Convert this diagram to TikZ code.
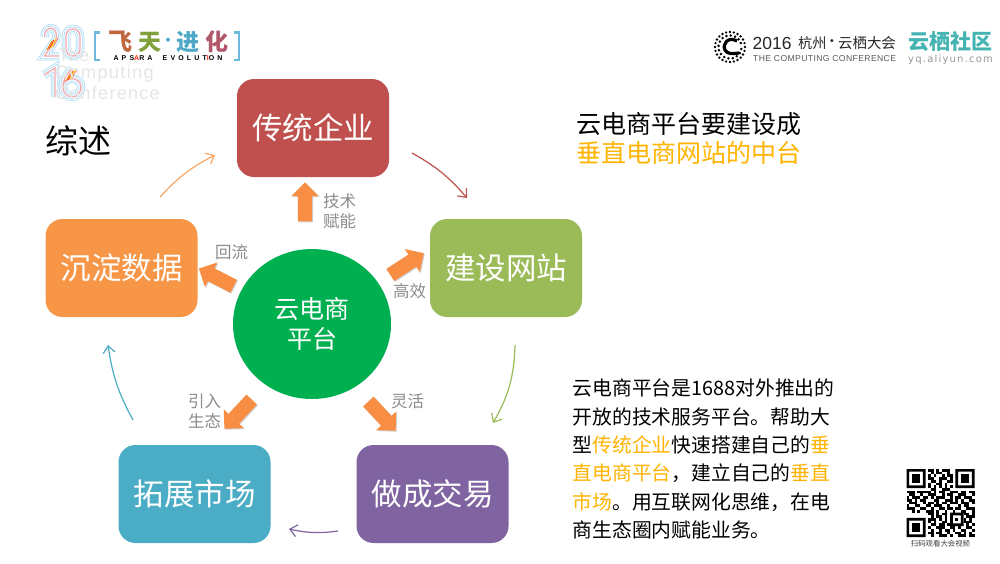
\documentclass[tikz,border=0pt]{standalone}
\usepackage{fontspec}
\setmainfont{Noto Sans CJK SC}
\newfontfamily\latinlogo{Liberation Sans}
\newfontfamily\monologo{DejaVu Sans}
\usetikzlibrary{shapes.arrows,shapes.geometric,arrows.meta,shadows}
\definecolor{cred}{HTML}{C0504D}
\definecolor{cgreen}{HTML}{9BBB59}
\definecolor{corange}{HTML}{F79646}
\definecolor{cteal}{HTML}{4BACC6}
\definecolor{cpurple}{HTML}{8064A2}
\definecolor{ccircle}{HTML}{00B050}
\definecolor{cgold}{HTML}{FFB400}
\definecolor{cgray}{HTML}{8C8C8C}
\definecolor{cstripe}{HTML}{A6DAF4}
\definecolor{cpinkstripe}{HTML}{F0A8B0}
\definecolor{cbracket}{HTML}{6DB9DC}
\definecolor{cfei}{HTML}{C0673F}
\definecolor{ctian}{HTML}{7FA03A}
\definecolor{cjin}{HTML}{4FA8C8}
\definecolor{chua}{HTML}{B0586A}
\newcommand{\fs}[1]{\fontsize{#1}{#1}\selectfont}
\newcommand{\hl}[1]{\textcolor{cgold}{#1}}
\newcommand{\logostripe}[1]{%
  \draw[cstripe,line width=8.5pt] #1;
  \draw[white,line width=7pt] #1;
  \draw[cstripe,line width=5pt] #1;
  \draw[white,line width=3.5pt] #1;
  \draw[cpinkstripe,line width=1.3pt] #1;}
\tikzset{
  bigbox/.style={draw=none,rounded corners=17pt,minimum width=152pt,minimum height=98pt,inner sep=0pt,text=white,font=\fs{30.5}},
  blockarrow/.style={single arrow,fill=corange!95!red,draw=none,inner sep=7pt,single arrow head extend=6.5pt,single arrow head indent=0pt,
    general shadow={shadow xshift=1pt,shadow yshift=-1pt,fill=black,opacity=.18}},
  graylabel/.style={text=cgray,font=\fs{16.5},inner sep=0pt,align=center},
  flow/.style={line width=1.2pt,-{Straight Barb[length=7pt,width=12pt]}},
  logotext/.style={anchor=west,inner sep=0pt},
  qrcell/.style={fill=black,draw=none}
}
\begin{document}
\begin{tikzpicture}[x=1pt,y=-1pt]
\useasboundingbox (0,0) rectangle (1000,563);
\fill[white] (0,0) rectangle (1000,563);

% top-left logo
\logostripe{(44.5,37) .. controls (44.5,25) and (59,25) .. (56,39) -- (44.5,56) -- (59,56)}
\logostripe{[rounded corners=7pt] (66,29) rectangle (80,56)}
\logostripe{(44,75) -- (55,68) -- (55,97)}
\logostripe{(72,69) .. controls (66,74) and (63,80) .. (63,87) .. controls (63,100) and (81,100) .. (81,87) .. controls (81,76) and (63,76) .. (63,87)}
\foreach \i/\col in {0/orange,1/red!60!orange,2/yellow!80!orange,3/red!50!white}{
  \draw[\col,line width=.9pt] ({47+\i*2},{50-\i}) -- ({52+\i*2},{41-\i});
  \draw[\col,line width=.9pt] ({66+\i*2},{81-\i}) -- ({71+\i*2},{72-\i});
}
\node[logotext,text=black!10,font={\latinlogo\fs{18}}] (tcc1) at (58,55) {The};
\node[logotext,text=black!10,font={\latinlogo\fs{18}}] (tcc2) at (55,74) {\addfontfeature{LetterSpace=8}Computing};
\node[logotext,text=black!10,font={\latinlogo\fs{18}}] (tcc3) at (55,93) {\addfontfeature{LetterSpace=7}Conference};
\draw[cbracket,line width=2.2pt] (100,32.5) -- (95,32.5) -- (95,60) -- (100,60);
\draw[cbracket,line width=2.2pt] (234,32.5) -- (239,32.5) -- (239,60) -- (234,60);
\node[inner sep=0pt,font=\fs{24}\bfseries,text=cfei] (fei) at (120.5,42) {飞};
\node[inner sep=0pt,font=\fs{23}\bfseries,text=ctian] (tian) at (149.5,42) {天};
\node[inner sep=0pt,font=\fs{14}\bfseries,text=cjin] (dot) at (168,42) {·};
\node[inner sep=0pt,font=\fs{23}\bfseries,text=cjin] (jin) at (187.5,42) {进};
\node[inner sep=0pt,font=\fs{23}\bfseries,text=chua] (hua) at (217,42) {化};
\node[inner sep=0pt,font={\latinlogo\fs{7}\bfseries}] (aps) at (168,58) {\addfontfeature{LetterSpace=45}APS\textcolor{red!70!orange}{A}RA\ \ EVOLUT\textcolor{red!70!orange}{I}ON};

% top-right logo
\foreach \a in {0,15,...,345}\fill ({730+15*cos(\a)},{47+15*sin(\a)}) circle (1.3pt);
\foreach \a in {10,32,...,340}\fill ({730+11.5*cos(\a)},{47+11.5*sin(\a)}) circle (1.4pt);
\draw[line width=3.2pt] (737,41) .. controls (728,36) and (722,44) .. (725,50) .. controls (727,54) and (732,54) .. (739,53);
\node[logotext,font={\latinlogo\fs{17.5}},text=black!85] (logoa) at (752.5,43) {2016};
\node[logotext,font=\fs{14.2},text=black!85] (logoe) at (798,43) {杭州};
\node[inner sep=0pt,font=\fs{14.2},text=black!85] (logof) at (832,43) {·};
\node[logotext,font=\fs{14.4},text=black!85] (logog) at (838,43) {云栖大会};
\node[logotext,font={\latinlogo\fs{8.6}},text=black!65] (logob) at (753,59) {\addfontfeature{LetterSpace=4.5}THE COMPUTING CONFERENCE};
\node[logotext,font=\fs{21}\bfseries,text=cteal!90!green] (logoc) at (908,42) {云栖社区};
\node[logotext,font={\monologo\fs{10}},text=black!40] (logod) at (908,60) {\addfontfeature{LetterSpace=12}yq.aliyun.com};

% title and headings
\node[logotext,font=\fs{33}] (title) at (45,141) {综述};
\node[logotext,font=\fs{25}] (heada) at (576,124) {云电商平台要建设成};
\node[logotext,font=\fs{25},text=cgold] (headb) at (576,153) {垂直电商网站的中台};

% main boxes
\node[bigbox,fill=cred] (chuantong) at (313,128) {传统企业};
\node[bigbox,fill=cgreen] (jianshe) at (506,268) {建设网站};
\node[bigbox,fill=cpurple] (jiaoyi) at (432.5,494) {做成交易};
\node[bigbox,fill=cteal] (tuozhan) at (194.5,494) {拓展市场};
\node[bigbox,fill=corange] (chendian) at (121.5,268) {沉淀数据};
\node[ellipse,fill=ccircle,minimum width=158pt,minimum height=150pt,inner sep=0pt,text=white,font=\fs{25},align=center] (pingtai) at (312,324) {云电商\\[5pt]平台};

% block arrows
\node[blockarrow,minimum height=39pt,rotate=90] (aup) at (305,205.5) {};
\node[blockarrow,minimum height=40pt,rotate=33] (aru) at (404,266) {};
\node[blockarrow,minimum height=39pt,rotate=153] (alu) at (219.5,279) {};
\node[blockarrow,minimum height=40pt,rotate=227] (adl) at (240.5,411.5) {};
\node[blockarrow,minimum height=40pt,rotate=-47] (adr) at (379.5,413.5) {};

% labels
\node[graylabel,anchor=west] (la) at (323,201.5) {技术};
\node[graylabel,anchor=west] (lb) at (323,221.5) {赋能};
\node[graylabel,anchor=west] (lc) at (215,252) {回流};
\node[graylabel,anchor=west] (ld) at (393,291) {高效};
\node[graylabel,anchor=west] (le) at (391,401) {灵活};
\node[graylabel,anchor=west] (lf) at (188,401) {引入};
\node[graylabel,anchor=west] (lg) at (188,421.5) {生态};

% flow arrows
\coordinate (f1a) at (160,197); \coordinate (f1b) at (215,155);
\coordinate (f2a) at (412,153); \coordinate (f2b) at (467,198);
\coordinate (f3a) at (515,345); \coordinate (f3b) at (493,423);
\coordinate (f4a) at (338,531); \coordinate (f4b) at (289,529);
\coordinate (f5a) at (133,420); \coordinate (f5b) at (108,345);
\draw[flow,color=corange!85!white] (f1a) to[bend left=10] (f1b);
\draw[flow,color=cred] (f2a) to[bend left=10] (f2b);
\draw[flow,color=cgreen] (f3a) to[bend left=14] (f3b);
\draw[flow,color=cpurple] (f4a) to[bend left=10] (f4b);
\draw[flow,color=cteal] (f5a) to[bend left=10] (f5b);

% body text
\node[anchor=north west,inner sep=0pt,font=\fontsize{19.8}{28.3}\selectfont,align=left] (body) at (572.5,379) {云电商平台是1688对外推出的\\开放的技术服务平台。帮助大\\型\hl{传统企业}快速搭建自己的\hl{垂}\\\hl{直电商平台}，建立自己的\hl{垂直}\\\hl{市场}。用互联网化思维，在电\\商生态圈内赋能业务。};

% QR code
\begin{scope}[shift={(906.5,469)},x=2.72pt,y=-2.72pt]
\foreach \cx/\cy in {0/0,18/0,0/18}{
  \fill[black,even odd rule] (\cx,\cy) rectangle ++(7,7) (\cx+1,\cy+1) rectangle ++(5,5);
  \fill (\cx+2,\cy+2) rectangle ++(3,3);
}
\fill[black,even odd rule] (16,16) rectangle ++(5,5) (17,17) rectangle ++(3,3);
\fill (18,18) rectangle ++(1,1);
\foreach \r/\cells in {
 0/{8/2,11/1,13/3},1/{9/1,11/2,15/1},2/{8/1,10/1,13/1,15/2},3/{8/2,12/3,16/1},
 4/{9/2,12/1,15/2},5/{8/1,11/2,14/1},6/{8/1,10/1,12/1,14/1,16/1},7/{9/2,13/3},
 8/{0/3,4/3,7/2,10/1,12/2,16/3,20/2,23/2},9/{1/2,5/1,8/3,13/1,15/2,19/3,24/1},
 10/{0/1,2/3,6/2,9/1,11/3,16/1,18/2,21/3},11/{0/2,3/1,5/2,10/2,14/3,18/1,20/1,23/2},
 12/{1/3,6/1,8/2,11/1,13/2,16/3,20/3,24/1},13/{0/1,3/2,7/2,10/3,15/1,19/1,21/2},
 14/{0/3,5/2,9/1,12/2,15/2,18/2,22/3},15/{2/1,4/1,7/3,11/1,14/1,17/1,20/2,24/1},
 16/{8/2,11/1,13/2,21/2,24/1},17/{9/1,11/2,14/1,22/3},18/{8/3,12/1,14/1,21/1,23/1},
 19/{8/1,10/1,13/2,21/3},20/{9/2,12/2,15/1,22/1,24/1},21/{8/1,11/3,16/2,19/1,22/2},
 22/{9/1,12/1,14/2,17/1,20/2,24/1},23/{8/2,11/2,15/1,18/2,21/1,23/1},24/{9/1,12/3,16/1,19/3,23/2}}{
  \foreach \c/\n in \cells { \fill[qrcell] (\c,\r) rectangle ++(\n,1); }
}
\end{scope}
\node[inner sep=0pt,font=\fs{7.4},text=black!75] (qrcap) at (940.5,544) {扫码观看大会视频};
\end{tikzpicture}
\end{document}
